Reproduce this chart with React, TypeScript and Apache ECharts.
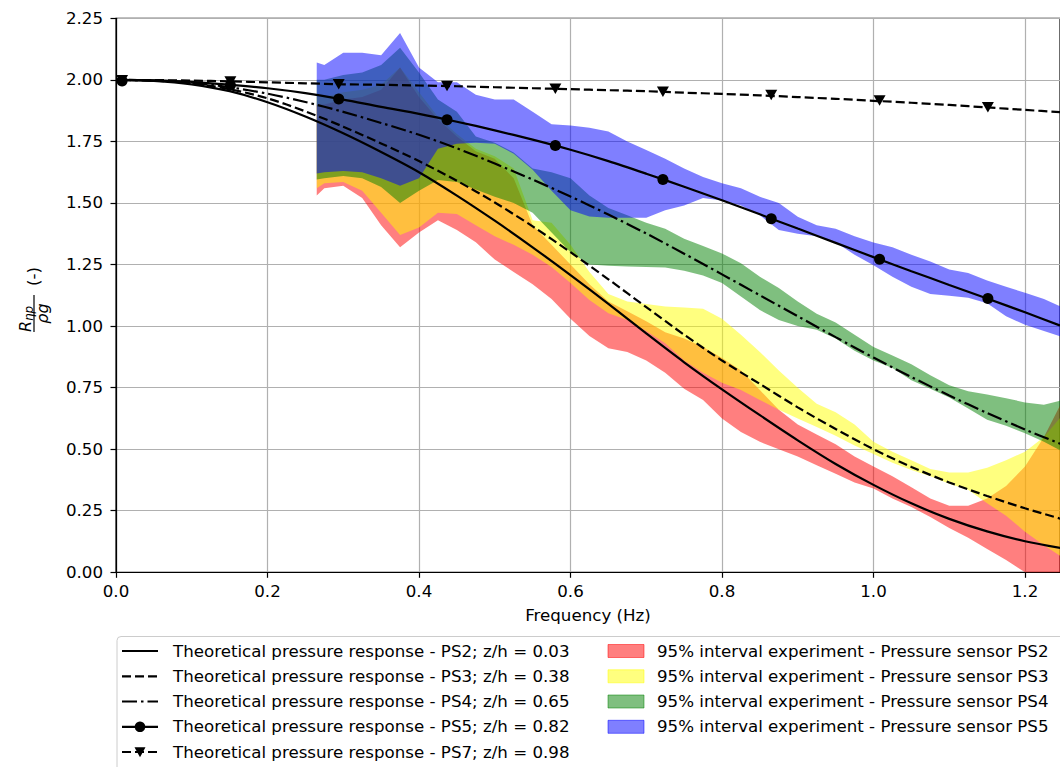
import React, { useEffect, useRef } from "react";
import * as echarts from "echarts";

// ---------- data ----------
const FREQ = [0.265, 0.275, 0.3, 0.325, 0.35, 0.375, 0.4, 0.425, 0.45, 0.475, 0.5, 0.525, 0.55, 0.575, 0.6, 0.625, 0.65, 0.675, 0.7, 0.725, 0.75, 0.775, 0.8, 0.825, 0.85, 0.875, 0.9, 0.925, 0.95, 0.975, 1.0, 1.025, 1.05, 1.075, 1.1, 1.125, 1.15, 1.175, 1.2, 1.225, 1.25];

const PS2_LOW = [1.53, 1.56, 1.57, 1.52, 1.41, 1.32, 1.38, 1.43, 1.39, 1.34, 1.27, 1.22, 1.17, 1.11, 1.03, 0.96, 0.91, 0.895, 0.86, 0.81, 0.745, 0.70, 0.625, 0.57, 0.53, 0.50, 0.47, 0.435, 0.40, 0.365, 0.34, 0.30, 0.265, 0.225, 0.18, 0.14, 0.095, 0.05, 0.0, -0.05, -0.1];
const PS2_HIGH = [1.90, 1.90, 1.92, 1.93, 1.96, 2.05, 1.93, 1.84, 1.77, 1.71, 1.68, 1.60, 1.41, 1.33, 1.25, 1.17, 1.10, 1.06, 1.02, 0.975, 0.95, 0.915, 0.87, 0.82, 0.74, 0.66, 0.60, 0.56, 0.52, 0.47, 0.43, 0.39, 0.345, 0.30, 0.27, 0.27, 0.30, 0.35, 0.43, 0.55, 0.70];

const PS3_LOW = [1.56, 1.58, 1.585, 1.55, 1.46, 1.37, 1.40, 1.46, 1.455, 1.41, 1.365, 1.33, 1.29, 1.24, 1.175, 1.106, 1.052, 1.025, 0.98, 0.93, 0.86, 0.81, 0.77, 0.74, 0.70, 0.66, 0.625, 0.59, 0.555, 0.515, 0.48, 0.445, 0.415, 0.39, 0.36, 0.335, 0.28, 0.23, 0.165, 0.11, 0.06];
const PS3_HIGH = [1.93, 1.93, 1.95, 1.96, 1.98, 2.05, 1.95, 1.85, 1.78, 1.72, 1.69, 1.64, 1.43, 1.42, 1.33, 1.22, 1.13, 1.10, 1.09, 1.08, 1.075, 1.07, 1.03, 0.965, 0.895, 0.82, 0.75, 0.685, 0.65, 0.60, 0.53, 0.49, 0.455, 0.42, 0.405, 0.405, 0.425, 0.455, 0.49, 0.55, 0.64];

const PS4_LOW = [1.595, 1.60, 1.61, 1.60, 1.565, 1.50, 1.55, 1.593, 1.585, 1.555, 1.525, 1.50, 1.46, 1.38, 1.30, 1.25, 1.245, 1.242, 1.24, 1.238, 1.225, 1.205, 1.175, 1.12, 1.065, 1.025, 1.0, 0.985, 0.95, 0.90, 0.86, 0.83, 0.78, 0.745, 0.71, 0.665, 0.62, 0.595, 0.565, 0.53, 0.49];
const PS4_HIGH = [2.0, 2.0, 2.02, 2.03, 2.06, 2.13, 2.03, 1.92, 1.87, 1.77, 1.745, 1.705, 1.64, 1.625, 1.60, 1.53, 1.48, 1.45, 1.42, 1.395, 1.355, 1.325, 1.295, 1.255, 1.20, 1.155, 1.10, 1.05, 1.015, 0.965, 0.915, 0.88, 0.845, 0.80, 0.76, 0.735, 0.722, 0.707, 0.69, 0.68, 0.70];

const PS5_LOW = [1.62, 1.625, 1.63, 1.625, 1.60, 1.57, 1.60, 1.72, 1.74, 1.745, 1.74, 1.70, 1.635, 1.55, 1.47, 1.445, 1.44, 1.44, 1.44, 1.47, 1.49, 1.52, 1.51, 1.49, 1.45, 1.39, 1.375, 1.365, 1.34, 1.29, 1.247, 1.20, 1.16, 1.13, 1.123, 1.115, 1.093, 1.04, 1.005, 0.98, 0.955];
const PS5_HIGH = [2.07, 2.06, 2.11, 2.11, 2.10, 2.19, 2.05, 1.99, 1.99, 1.94, 1.92, 1.92, 1.87, 1.82, 1.815, 1.805, 1.79, 1.75, 1.715, 1.68, 1.64, 1.605, 1.58, 1.56, 1.525, 1.50, 1.444, 1.41, 1.395, 1.365, 1.339, 1.32, 1.29, 1.262, 1.23, 1.216, 1.185, 1.16, 1.135, 1.11, 1.075];

const THEORY_F = [0, 0.05, 0.1, 0.15, 0.2, 0.25, 0.3, 0.35, 0.4, 0.45, 0.5, 0.55, 0.6, 0.65, 0.7, 0.75, 0.8, 0.85, 0.9, 0.95, 1.0, 1.05, 1.1, 1.15, 1.2, 1.25];
const TH_PS2 = [2.0, 1.996, 1.982, 1.954, 1.909, 1.851, 1.783, 1.707, 1.625, 1.53, 1.428, 1.32, 1.207, 1.09, 0.97, 0.853, 0.743, 0.638, 0.536, 0.44, 0.355, 0.28, 0.217, 0.166, 0.126, 0.097];
const TH_PS3 = [2.0, 1.997, 1.986, 1.962, 1.925, 1.872, 1.81, 1.742, 1.67, 1.59, 1.502, 1.405, 1.30, 1.19, 1.077, 0.965, 0.86, 0.765, 0.67, 0.582, 0.50, 0.428, 0.365, 0.31, 0.26, 0.215];
const TH_PS4 = [2.0, 1.997, 1.988, 1.97, 1.944, 1.91, 1.87, 1.825, 1.777, 1.722, 1.66, 1.595, 1.526, 1.453, 1.376, 1.294, 1.21, 1.125, 1.04, 0.955, 0.872, 0.793, 0.718, 0.647, 0.58, 0.518];
const TH_PS5 = [2.0, 1.998, 1.992, 1.98, 1.966, 1.946, 1.92, 1.89, 1.862, 1.83, 1.795, 1.757, 1.716, 1.67, 1.619, 1.566, 1.511, 1.454, 1.396, 1.338, 1.28, 1.223, 1.167, 1.112, 1.056, 0.998];
const TH_PS7 = [2.0, 1.999, 1.997, 1.994, 1.99, 1.986, 1.982, 1.98, 1.977, 1.974, 1.97, 1.966, 1.962, 1.958, 1.954, 1.948, 1.943, 1.937, 1.93, 1.923, 1.915, 1.907, 1.898, 1.888, 1.878, 1.868];

const MARKER_F = [0.008, 0.151, 0.294, 0.437, 0.58, 0.722, 0.865, 1.008, 1.151];
const PS5_MARK = [1.995, 1.978, 1.922, 1.838, 1.733, 1.595, 1.436, 1.271, 1.112];
const PS7_MARK = [1.998, 1.993, 1.982, 1.975, 1.964, 1.952, 1.938, 1.916, 1.889];

const LINE_NAMES = [
  "Theoretical pressure response - PS2; z/h = 0.03",
  "Theoretical pressure response - PS3; z/h = 0.38",
  "Theoretical pressure response - PS4; z/h = 0.65",
  "Theoretical pressure response - PS5; z/h = 0.82",
  "Theoretical pressure response - PS7; z/h = 0.98",
];
const BAND_NAMES = [
  "95% interval experiment - Pressure sensor PS2",
  "95% interval experiment - Pressure sensor PS3",
  "95% interval experiment - Pressure sensor PS4",
  "95% interval experiment - Pressure sensor PS5",
];
const X_LABEL = "Frequency (Hz)";

// ---------- styling ----------
const FONT = "DejaVu Sans";
const FS = 16.67;
const X_MAX = 1.2462;
const BAND_COLORS = ["rgba(255,0,0,0.5)", "rgba(255,255,0,0.5)", "rgba(0,128,0,0.5)", "rgba(0,0,255,0.5)"];
const DASH = [9, 4];
const DASHDOT = [15, 4, 2.5, 4];
const LW = 2.2;

function bandSeries(name: string, lo: number[], hi: number[], color: string) {
  return {
    type: "custom",
    name,
    coordinateSystem: "cartesian2d",
    clip: true,
    silent: true,
    data: FREQ.map((f, i) => [f, lo[i], hi[i]]),
    encode: { x: 0, y: [1, 2] },
    renderItem: (params: any, api: any) => {
      if (params.dataIndex !== 0) return null;
      const pts: number[][] = [];
      for (let i = 0; i < FREQ.length; i++) pts.push(api.coord([FREQ[i], hi[i]]));
      for (let i = FREQ.length - 1; i >= 0; i--) pts.push(api.coord([FREQ[i], lo[i]]));
      return { type: "polygon", shape: { points: pts }, style: { fill: color } };
    },
    z: 2,
  };
}

function lineSeries(name: string, vals: number[], type: any) {
  return {
    type: "line",
    name,
    data: THEORY_F.map((f, i) => [f, vals[i]]),
    symbol: "none",
    smooth: 0.3,
    silent: true,
    lineStyle: { color: "#000", width: LW, type },
    z: 3,
  };
}

function legendGraphics() {
  const els: any[] = [];
  els.push({
    type: "rect",
    shape: { x: 117, y: 636.5, width: 1000, height: 200, r: 4 },
    style: { fill: "rgba(255,255,255,0.8)", stroke: "#cccccc", lineWidth: 1 },
    silent: true,
  });
  const rows = [651, 676.3, 701.5, 726.8, 752];
  const dashes: any[] = [null, DASH, DASHDOT, null, DASH];
  rows.forEach((y, i) => {
    els.push({
      type: "line",
      shape: { x1: 122, y1: y, x2: 158, y2: y },
      style: { stroke: "#000", lineWidth: LW, lineDash: dashes[i] },
      silent: true,
    });
    if (i === 3) {
      els.push({ type: "circle", shape: { cx: 140, cy: y, r: 5.3 }, style: { fill: "#000" }, silent: true });
    }
    if (i === 4) {
      els.push({
        type: "polygon",
        shape: { points: [[134.5, y - 4.8], [145.5, y - 4.8], [140, y + 5.2]] },
        style: { fill: "#000" },
        silent: true,
      });
    }
    els.push({
      type: "text",
      x: 173,
      y,
      style: { text: LINE_NAMES[i], fill: "#000", fontSize: FS, fontFamily: FONT, align: "left", verticalAlign: "middle", textAlign: "left", textVerticalAlign: "middle" },
      silent: true,
    });
  });
  BAND_NAMES.forEach((name, i) => {
    const y = rows[i];
    els.push({
      type: "rect",
      shape: { x: 608, y: y - 6.5, width: 36, height: 13 },
      style: { fill: BAND_COLORS[i], stroke: BAND_COLORS[i], lineWidth: 1 },
      silent: true,
    });
    els.push({
      type: "text",
      x: 657,
      y,
      style: { text: name, fill: "#000", fontSize: FS, fontFamily: FONT, align: "left", verticalAlign: "middle", textAlign: "left", textVerticalAlign: "middle" },
      silent: true,
    });
  });
  return els;
}

function yLabelGraphic() {
  const t = (text: string, x: number, y: number, size: number, italic: boolean, align = "left") => ({
    type: "text",
    x,
    y,
    style: {
      text,
      fill: "#000",
      fontSize: size,
      fontFamily: FONT,
      fontStyle: italic ? "italic" : "normal",
      align,
      verticalAlign: "middle",
      textAlign: align,
      textVerticalAlign: "middle",
    },
    silent: true,
  });
  return {
    type: "group",
    x: 34,
    y: 313.5,
    rotation: Math.PI / 2,
    silent: true,
    children: [
      t("R", -18.5, -8.5, 16, true),
      t("ηp", -7.5, -5, 12, true),
      { type: "line", shape: { x1: -18.5, y1: 0, x2: 18.5, y2: 0 }, style: { stroke: "#000", lineWidth: 1.2 }, silent: true },
      t("ρg", 0, 8.5, 16, true, "center"),
      t("(-)", 37, -1, FS, false, "center"),
    ],
  };
}

export default function App() {
  const ref = useRef<HTMLDivElement>(null);
  useEffect(() => {
    if (!ref.current) return;
    const chart = echarts.init(ref.current, undefined, { renderer: "svg" });
    const axisCommon = {
      axisLine: { show: true, onZero: false, lineStyle: { color: "#000", width: 1.2 } },
      axisTick: { show: true, length: 5.5, inside: false, lineStyle: { color: "#000", width: 1.2 } },
      splitLine: { show: true, lineStyle: { color: "#b0b0b0", width: 1.2 } },
    };
    const option: any = {
      animation: false,
      textStyle: { fontFamily: FONT },
      grid: { left: 116, right: 0, top: 18.3, bottom: 194.7, show: true, borderColor: "#000", borderWidth: 1.2, backgroundColor: "transparent" },
      xAxis: {
        type: "value",
        min: 0,
        max: X_MAX,
        interval: 0.2,
        name: X_LABEL,
        nameLocation: "middle",
        nameGap: 35,
        nameTextStyle: { fontSize: FS, color: "#000", fontFamily: FONT },
        axisLabel: { fontSize: FS, color: "#000", fontFamily: FONT, margin: 11, showMaxLabel: false, formatter: (v: number) => v.toFixed(1) },
        ...axisCommon,
      },
      yAxis: {
        type: "value",
        min: 0,
        max: 2.25,
        interval: 0.25,
        axisLabel: { fontSize: FS, color: "#000", fontFamily: FONT, margin: 13, formatter: (v: number) => v.toFixed(2) },
        ...axisCommon,
      },
      series: [
        bandSeries(BAND_NAMES[0], PS2_LOW, PS2_HIGH, BAND_COLORS[0]),
        bandSeries(BAND_NAMES[1], PS3_LOW, PS3_HIGH, BAND_COLORS[1]),
        bandSeries(BAND_NAMES[2], PS4_LOW, PS4_HIGH, BAND_COLORS[2]),
        bandSeries(BAND_NAMES[3], PS5_LOW, PS5_HIGH, BAND_COLORS[3]),
        lineSeries(LINE_NAMES[0], TH_PS2, "solid"),
        lineSeries(LINE_NAMES[1], TH_PS3, DASH),
        lineSeries(LINE_NAMES[2], TH_PS4, DASHDOT),
        lineSeries(LINE_NAMES[3], TH_PS5, "solid"),
        lineSeries(LINE_NAMES[4], TH_PS7, DASH),
        {
          type: "scatter",
          name: LINE_NAMES[3] + " markers",
          data: MARKER_F.map((f, i) => [f, PS5_MARK[i]]),
          symbol: "circle",
          symbolSize: 11,
          itemStyle: { color: "#000", opacity: 1 },
          silent: true,
          z: 4,
        },
        {
          type: "scatter",
          name: LINE_NAMES[4] + " markers",
          data: MARKER_F.map((f, i) => [f, PS7_MARK[i]]),
          symbol: "triangle",
          symbolRotate: 180,
          symbolSize: [12, 10.5],
          itemStyle: { color: "#000", opacity: 1 },
          silent: true,
          z: 4,
        },
      ],
      graphic: [yLabelGraphic(), ...legendGraphics()],
    };
    chart.setOption(option);
    return () => chart.dispose();
  }, []);
  return (
    <div
      ref={ref}
      style={{ position: "absolute", left: 0, top: 0, width: 1060, height: 767, background: "#fff" }}
    />
  );
}
